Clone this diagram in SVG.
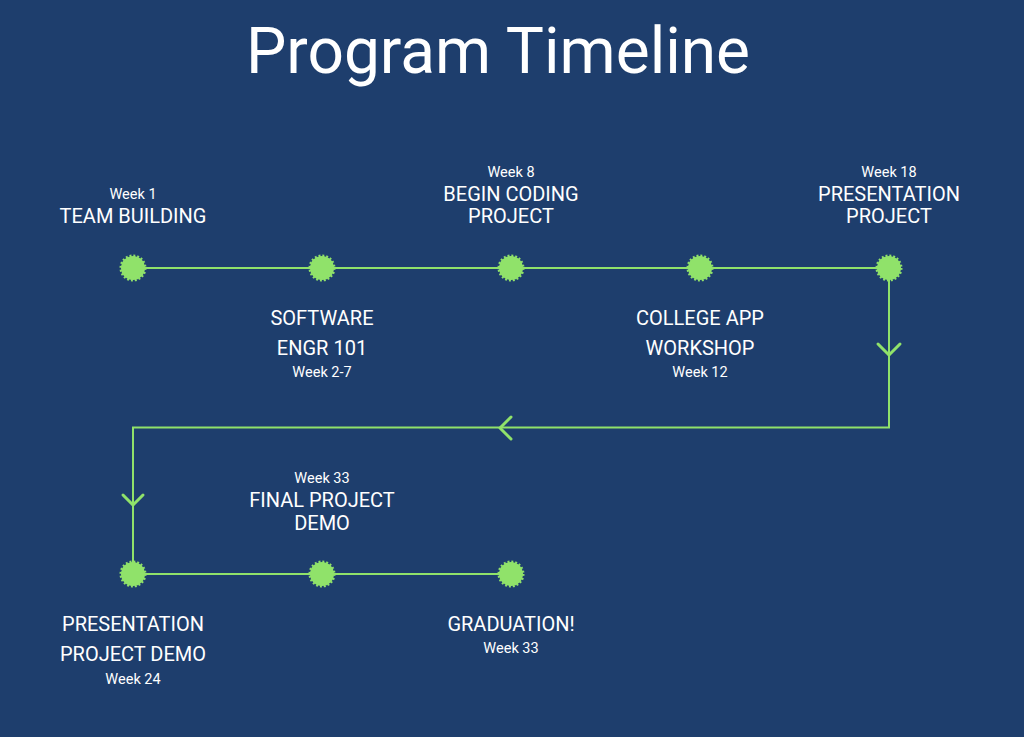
<svg xmlns="http://www.w3.org/2000/svg" width="1024" height="737" viewBox="0 0 1024 737">
<style>
.t{font-family:Roboto,"Liberation Sans",sans-serif;fill:#ffffff;text-anchor:middle}
.title{font-size:64px}
.lb{font-size:20px}
.wk{font-size:14.5px}
.ln{fill:none;stroke:#90e26a;stroke-width:2}
.ch{fill:none;stroke:#90e26a;stroke-width:3;stroke-linecap:round;stroke-linejoin:round}
</style>
<defs>
<g id="dot"><circle r="12" fill="#90e26a" stroke="#90e26a" stroke-width="3" stroke-dasharray="1.885 1.885"/></g>
</defs>
<rect width="1024" height="737" fill="#1e3e6d"/>
<text class="t title" x="498" y="73">Program Timeline</text>
<g id="connectors">
<path class="ln" d="M133 268 H889 V427.5 H133 V574 H511"/>
<path class="ch" d="M878 344 L889 355 L900 344"/>
<path class="ch" d="M511 417 L500 428 L511 439"/>
<path class="ch" d="M123 495 L133 505 L143 495"/>
</g>
<g id="n1"><use href="#dot" x="133" y="268"/><text class="t wk" x="133" y="199">Week 1</text><text class="t lb" x="133" y="223">TEAM BUILDING</text></g>
<g id="n2"><use href="#dot" x="322" y="268"/><text class="t lb" x="322" y="325">SOFTWARE</text><text class="t lb" x="322" y="355">ENGR 101</text><text class="t wk" x="322" y="377">Week 2-7</text></g>
<g id="n3"><use href="#dot" x="511" y="268"/><text class="t wk" x="511" y="177">Week 8</text><text class="t lb" x="511" y="201">BEGIN CODING</text><text class="t lb" x="511" y="223">PROJECT</text></g>
<g id="n4"><use href="#dot" x="700" y="268"/><text class="t lb" x="700" y="325">COLLEGE APP</text><text class="t lb" x="700" y="355">WORKSHOP</text><text class="t wk" x="700" y="377">Week 12</text></g>
<g id="n5"><use href="#dot" x="889" y="268"/><text class="t wk" x="889" y="177">Week 18</text><text class="t lb" x="889" y="201">PRESENTATION</text><text class="t lb" x="889" y="223">PROJECT</text></g>
<g id="n6"><use href="#dot" x="133" y="574"/><text class="t lb" x="133" y="631">PRESENTATION</text><text class="t lb" x="133" y="661">PROJECT DEMO</text><text class="t wk" x="133" y="684">Week 24</text></g>
<g id="n7"><use href="#dot" x="322" y="574"/><text class="t wk" x="322" y="483">Week 33</text><text class="t lb" x="322" y="507">FINAL PROJECT</text><text class="t lb" x="322" y="530">DEMO</text></g>
<g id="n8"><use href="#dot" x="511" y="574"/><text class="t lb" x="511" y="631">GRADUATION!</text><text class="t wk" x="511" y="653">Week 33</text></g>
</svg>
